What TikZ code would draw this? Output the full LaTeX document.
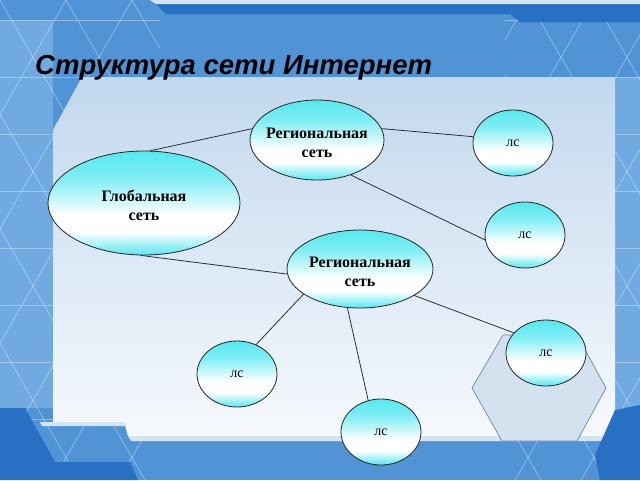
\documentclass[tikz,border=0pt]{standalone}
\usepackage{fontspec}
\setmainfont{Liberation Serif}
\newfontfamily\titlefont{Liberation Sans}
\usetikzlibrary{shapes.geometric}
\definecolor{bgblue}{RGB}{80,148,214}
\definecolor{darkblue}{RGB}{40,112,196}
\definecolor{stripblue}{RGB}{112,170,224}
\definecolor{lightbar}{RGB}{214,228,242}
\definecolor{contop}{RGB}{194,216,238}
\definecolor{conbot}{RGB}{246,249,253}
\definecolor{ellcyan}{RGB}{86,232,240}
\definecolor{hexfill}{RGB}{212,226,240}
\definecolor{hexline}{RGB}{110,135,165}
\definecolor{linkcol}{RGB}{40,48,58}
\pgfdeclareverticalshading{ellshade}{100bp}{%
  color(0bp)=(ellcyan); color(25bp)=(ellcyan); color(36bp)=(white);
  color(44bp)=(white); color(62bp)=(ellcyan!75!white); color(75bp)=(ellcyan);
  color(100bp)=(ellcyan)}
\newcommand{\twolines}[2]{\makebox[0pt]{\raisebox{-8pt}[0pt][0pt]{\begin{tabular}{@{}c@{}}#1\\[-1pt]#2\end{tabular}}}}
\begin{document}
\begin{tikzpicture}[x=1pt,y=-1pt,
  net/.style={ellipse, draw=black!85, line width=0.8pt,
    shading=ellshade, inner sep=0pt,
    font=\bfseries\fontsize{16}{20}\selectfont},
  lan/.style={ellipse, draw=black!85, line width=0.8pt,
    shading=ellshade, inner sep=0pt, minimum width=80pt, minimum height=66pt,
    font=\fontsize{14}{16}\selectfont},
  link/.style={draw=linkcol, line width=0.8pt}]
\useasboundingbox (0,0) rectangle (640,480);
% frame background
\fill[bgblue] (0,0) rectangle (640,480);
\fill[stripblue] (0,20) rectangle (53,408);
\fill[stripblue] (615,77) rectangle (640,410);
\begin{scope}
  \clip (0,0) rectangle (160,480) (505,0) rectangle (640,480);
  \foreach \y in {20,77,134,191,248,305,362,419}
    \draw[white, opacity=0.35, line width=0.8pt] (0,\y) -- (640,\y);
  \foreach \c in {-330,-264,...,990}{
    \draw[white, opacity=0.35, line width=0.8pt] (\c,0) -- ({\c+0.577*480},480);
    \draw[white, opacity=0.35, line width=0.8pt] (\c,0) -- ({\c-0.577*480},480);
  }
\end{scope}
% top strip
\fill[darkblue] (152,0) -- (640,0) -- (640,22) -- (520,22) -- (510,14) -- (166,14) -- cycle;
\fill[lightbar] (150,0) -- (640,0) -- (640,4) -- (156,4) -- cycle;
% content area
\path[top color=contop, bottom color=conbot]
  (82,77) -- (615,77) -- (615,436) -- (128,436) -- (124,422) -- (53,422) -- (53,130) -- cycle;
% bottom band
\fill[lightbar] (128,436) -- (615,436) -- (615,441) -- (131,441) -- cycle;
\fill[lightbar] (40,422) -- (124,422) -- (127,426) -- (42,426) -- cycle;
\fill[darkblue] (0,408) -- (25,408) -- (55,462) -- (130,462) -- (138,480) -- (0,480) -- cycle;
\fill[darkblue] (615,410) -- (640,405) -- (640,480) -- (600,480) -- (595,455) -- cycle;
% title
\node[anchor=base west, inner sep=0pt, font=\titlefont\bfseries\itshape\fontsize{27.5}{32}\selectfont]
  (title) at (35,74) {Структура сети Интернет};
% hexagon
\draw[hexline, fill=hexfill, line width=0.7pt]
  (503,335) -- (577,335) -- (606,388) -- (577,441) -- (502,441) -- (472,388) -- cycle;
% nodes
\node[net, minimum width=192pt, minimum height=104pt] (g) at (144,203) {\twolines{Глобальная}{сеть}};
\node[net, minimum width=134pt, minimum height=80pt] (r1) at (317,140) {\twolines{Региональная}{сеть}};
\node[net, minimum width=146pt, minimum height=78pt] (r2) at (360,269) {\twolines{Региональная}{сеть}};
\node[lan] (l1) at (513,143) {лс};
\node[lan] (l2) at (525,235) {лс};
\node[lan] (l3) at (546,353) {лс};
\node[lan] (l4) at (237,374) {лс};
\node[lan] (l5) at (381,432) {лс};
% links
\draw[link] (g.83) -- (r1.170);
\draw[link] (r1.10) -- (l1.171);
\draw[link] (r1.-46) -- (l2.-173);
\draw[link] (g.-94) -- (r2.184);
\draw[link] (r2.-26) -- (l3.148);
\draw[link] (r2.-156) -- (l4.57);
\draw[link] (r2.-108) -- (l5.112);
\end{tikzpicture}
\end{document}
